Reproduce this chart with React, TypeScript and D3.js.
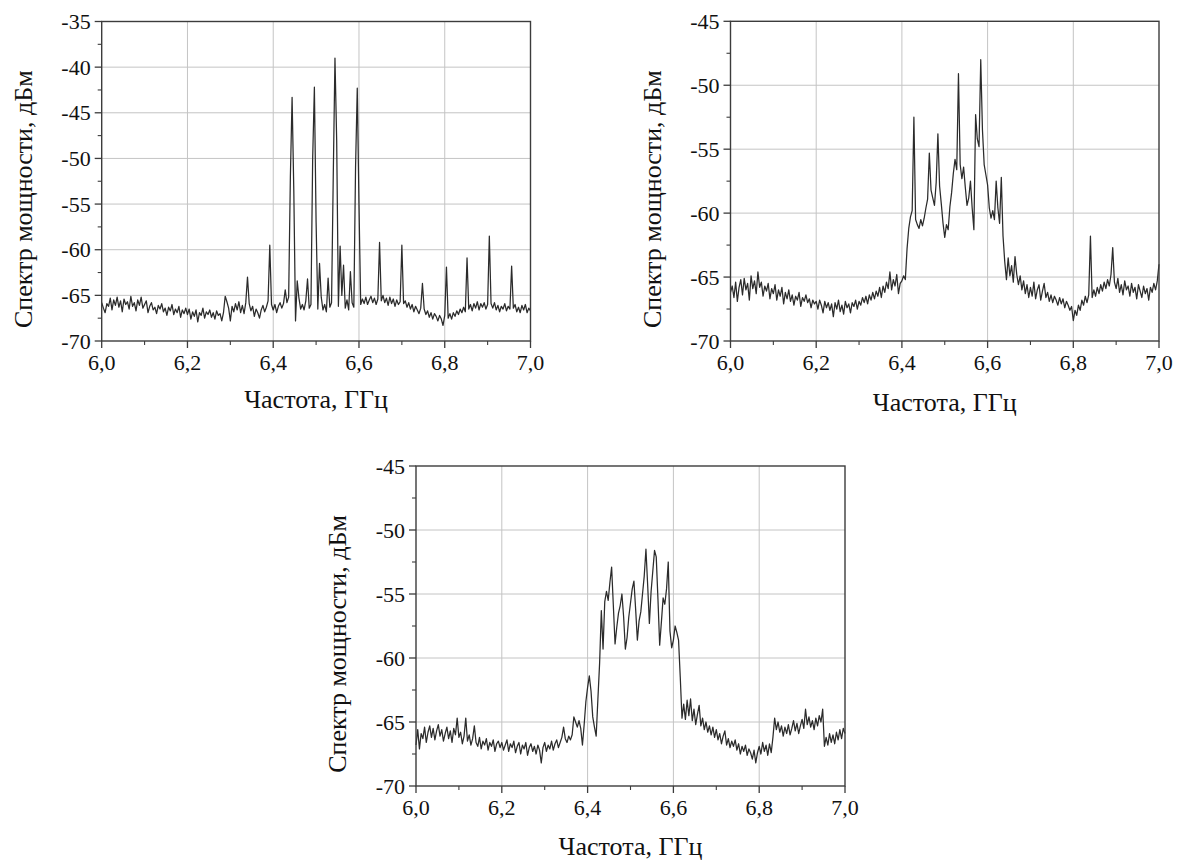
import React from "react";
import * as d3 from "d3";

// Frequency grid: spectra are sampled every 4 MHz from 6.0 to 7.0 GHz
const F_START = 6.0;
const F_STEP = 0.004;

// Spectrum A: discrete comb of lines around 6.55 GHz (dBm)
const SPECTRUM_A: number[] = [
  -65.8, -66.4, -66.9, -65.9, -66.2, -65.3, -66.6, -65.5, -66.1, -65.2, -66.3, -65.6, -66.8, -65.4, -66.0, -65.7, -66.5, -65.1, -66.2, -65.8, -66.7, -65.5, -66.1, -65.2, -66.4,
  -66.0, -65.6, -66.9, -66.2, -65.8, -66.6, -66.3, -67.0, -66.1, -66.5, -65.9, -66.8, -66.4, -67.2, -66.3, -66.7, -66.0, -67.1, -66.5, -66.9, -66.2, -67.4, -66.6, -67.0, -66.4,
  -67.1, -66.5, -67.6, -66.8, -67.3, -66.6, -67.9, -66.9, -67.2, -66.4, -67.5, -66.8, -67.1, -66.6, -67.4, -66.9, -67.6, -66.7, -67.2, -67.0, -67.8, -66.9, -65.1, -65.7, -66.4,
  -67.8, -66.2, -66.8, -65.9, -66.6, -65.7, -66.9, -66.1, -67.0, -65.8, -63.0, -65.9, -66.7, -66.2, -67.3, -66.5, -66.9, -67.5, -66.6, -66.1, -66.8, -66.3, -65.6, -59.5, -66.0,
  -66.6, -66.0, -66.9, -66.2, -65.8, -66.4, -65.9, -64.4, -65.8, -65.2, -52.0, -43.3, -53.5, -67.8, -63.4, -65.3, -66.5, -66.0, -66.6, -65.6, -63.2, -66.4, -66.0, -50.0, -42.2,
  -57.0, -66.5, -61.5, -65.2, -66.6, -66.0, -66.8, -63.1, -66.3, -65.8, -52.0, -39.0, -48.0, -66.2, -59.6, -65.0, -61.7, -66.4, -65.5, -66.6, -62.4, -65.8, -66.3, -51.0, -42.3,
  -55.0, -66.0, -65.4, -65.9, -65.2, -66.0, -65.5, -65.1, -65.8, -65.3, -66.0, -65.4, -59.2, -65.6, -65.0, -65.8, -65.3, -66.1, -65.2, -65.9, -65.4, -66.2, -65.5, -66.0, -65.7,
  -59.5, -65.9, -65.6, -66.3, -65.8, -66.5, -66.0, -66.8, -66.2, -66.6, -67.0, -66.4, -63.7, -66.5, -67.1, -66.7, -67.4, -66.9, -67.6, -67.0, -67.3, -67.8, -67.2, -67.6, -68.3,
  -67.2, -61.9, -67.5, -67.0, -67.6, -66.9, -67.3, -66.7, -67.1, -66.5, -66.9, -66.3, -66.8, -60.9, -66.5, -66.0, -66.7, -65.9, -66.4, -65.7, -66.6, -65.9, -66.3, -65.8, -66.5,
  -66.0, -58.5, -65.9, -66.4, -65.8, -66.6, -66.1, -66.8, -66.2, -66.5, -65.9, -66.7, -66.2, -66.5, -61.8, -66.4, -66.0, -66.8, -66.3, -66.9, -66.1, -66.6, -66.0, -66.9, -66.4,
  -66.7,
];

// Spectrum B: partially smeared comb (dBm)
const SPECTRUM_B: number[] = [
  -66.2, -65.7, -66.6, -65.4, -66.9, -65.8, -65.2, -66.4, -65.1, -66.0, -65.5, -66.8, -64.9, -65.9, -65.3, -66.3, -64.6, -65.8, -65.4, -66.5, -65.7, -66.1, -65.5, -66.7, -65.9,
  -66.3, -65.6, -66.8, -66.0, -66.5, -65.8, -67.1, -66.2, -66.7, -66.0, -66.9, -66.4, -67.2, -66.5, -66.8, -66.2, -67.3, -66.6, -66.9, -66.4, -67.0, -66.7, -67.4, -66.8, -67.1,
  -66.9, -67.5, -66.8, -67.2, -67.8, -66.9, -67.4, -67.0, -67.6, -67.1, -68.1, -67.0, -67.5, -66.8, -67.7, -67.2, -67.9, -66.9, -67.4, -67.1, -67.8, -67.0, -67.3, -66.8, -67.5,
  -66.9, -67.2, -66.6, -67.0, -66.5, -67.1, -66.4, -66.8, -66.2, -66.7, -66.1, -66.5, -65.8, -66.6, -65.7, -66.2, -65.4, -65.9, -64.6, -66.0, -65.2, -65.7, -64.8, -66.3, -65.5,
  -65.3, -64.9, -65.2, -62.8, -61.2, -60.3, -59.8, -52.5, -60.5, -60.9, -61.2, -60.5, -61.0, -60.4, -59.6, -58.9, -55.3, -58.2, -58.8, -59.4, -57.6, -53.8, -57.9, -59.3, -60.8,
  -61.9, -60.9, -61.3, -59.5, -58.4, -56.9, -55.8, -56.6, -49.1, -56.2, -57.3, -56.4, -58.0, -59.4, -58.8, -57.5, -59.6, -61.3, -52.3, -54.2, -54.8, -48.0, -53.5, -56.2, -57.0,
  -57.8, -59.6, -60.4, -59.8, -60.5, -57.5, -59.6, -60.8, -57.2, -61.8, -63.8, -65.2, -63.5, -64.9, -64.1, -65.4, -63.4, -64.8, -65.6, -64.9, -66.0, -65.3, -66.3, -65.6, -66.6,
  -65.8, -66.5, -65.4, -66.7, -66.0, -65.6, -66.8, -66.1, -65.5, -66.6, -66.2, -66.9, -66.4, -67.0, -66.5, -66.8, -67.2, -66.6, -67.1, -66.7, -67.4, -66.9, -67.2, -67.6, -67.3,
  -68.4, -67.6, -68.0, -67.2, -67.6, -66.8, -67.2, -66.5, -67.0, -66.4, -61.8, -66.6, -66.0, -66.5, -65.8, -66.3, -65.6, -66.1, -65.4, -65.9, -65.2, -65.7, -64.8, -62.7, -65.4,
  -65.9, -65.1, -66.2, -65.6, -66.4, -65.3, -66.0, -65.7, -66.5, -65.5, -66.2, -65.8, -66.7, -65.6, -66.1, -66.6, -65.7, -66.3, -65.9, -66.8, -65.8, -66.2, -65.5, -66.0, -65.3,
  -64.0,
];

// Spectrum C: continuous band 6.42–6.62 GHz (dBm)
const SPECTRUM_C: number[] = [
  -66.8, -65.6, -67.1, -65.9, -66.3, -65.4, -66.6, -65.8, -65.3, -66.2, -65.5, -66.4, -65.7, -65.2, -66.1, -65.6, -66.5, -65.9, -65.4, -66.3, -65.7, -66.6, -65.5, -66.0, -64.7,
  -66.2, -65.8, -66.7, -66.1, -64.7, -66.5, -66.0, -66.8, -66.3, -65.3, -66.6, -66.9, -66.2, -67.1, -66.5, -66.8, -66.3, -67.2, -66.6, -66.9, -66.4, -67.3, -66.7, -66.5, -67.0,
  -66.6, -67.2, -66.8, -66.4, -67.3, -66.7, -67.0, -66.5, -67.4, -66.9, -66.6, -67.5, -66.8, -67.1, -66.6, -67.6, -67.0, -66.7, -67.3, -66.9, -67.5, -66.8, -67.2, -68.2, -67.0,
  -66.6, -67.3, -66.8, -67.1, -66.5, -67.2, -66.7, -66.4, -67.0, -66.6, -66.2, -65.4, -66.3, -66.6, -66.1, -66.4, -66.0, -64.6, -65.0, -65.4, -64.9, -65.5, -66.8, -65.2, -63.4,
  -62.3, -61.4, -62.6, -64.6, -65.4, -66.1, -63.2, -60.4, -56.3, -59.3, -55.6, -54.8, -55.5, -54.1, -52.9, -55.9, -58.9, -57.6, -56.5, -55.9, -55.0, -56.8, -59.3, -58.4, -56.8,
  -55.7, -54.6, -54.0, -56.2, -58.6, -57.1, -56.4, -55.0, -53.6, -51.5, -54.3, -57.3, -54.8, -53.2, -51.6, -52.1, -55.4, -59.0, -57.2, -55.3, -55.8, -54.6, -52.5, -57.9, -59.2,
  -58.6, -57.5, -58.0, -58.6, -61.5, -64.7, -63.6, -64.8, -63.3, -64.5, -63.2, -64.9, -64.0, -65.2, -64.4, -63.7, -65.3, -64.7, -65.6, -65.0, -65.8, -65.3, -66.0, -65.4, -66.2,
  -65.6, -66.4, -65.9, -66.7, -66.1, -65.7, -66.8, -66.3, -67.0, -66.5, -66.9, -66.4, -67.2, -66.7, -67.5, -66.9, -67.3, -66.8, -67.6, -67.1, -67.4, -67.9, -67.2, -68.2, -67.4,
  -66.9, -67.5, -66.6, -67.3, -66.8, -67.6, -66.7, -67.4, -66.2, -64.7, -65.6, -65.0, -65.8, -65.3, -66.1, -65.4, -65.9, -65.2, -66.0, -65.5, -64.9, -65.7, -65.1, -65.9, -65.3,
  -64.8, -65.5, -64.0, -65.2, -64.6, -65.4, -64.9, -65.6, -64.7, -65.3, -64.5, -65.0, -64.0, -66.9, -66.2, -66.8, -65.9, -66.6, -66.0, -66.7, -65.8, -66.4, -65.6, -66.3, -65.5,
  -65.9,
];

// Axis ticks
const X_TICKS = [6.0, 6.2, 6.4, 6.6, 6.8, 7.0];
const X_MINOR = [6.1, 6.3, 6.5, 6.7, 6.9];
const Y_TICKS_A = [-70, -65, -60, -55, -50, -45, -40, -35];
const Y_TICKS_BC = [-70, -65, -60, -55, -50, -45];

const X_TITLE = "Частота, ГГц";
const Y_TITLE = "Спектр мощности, дБм";

const FONT = '"Liberation Serif", "DejaVu Serif", serif';

type PanelProps = {
  left: number;
  top: number;
  width: number;
  height: number;
  data: number[];
  yTicks: number[];
  xTitleY: number;
};

const fmtX = (v: number) => v.toFixed(1).replace(".", ",");

function Panel({ left, top, width, height, data, yTicks, xTitleY }: PanelProps) {
  const x = d3.scaleLinear().domain([6, 7]).range([left, left + width]);
  const yMin = yTicks[0];
  const yMax = yTicks[yTicks.length - 1];
  const y = d3.scaleLinear().domain([yMin, yMax]).range([top + height, top]);

  const points: [number, number][] = data.map((v, i) => [F_START + i * F_STEP, v]);
  const line = d3
    .line<[number, number]>()
    .x((d) => x(d[0]))
    .y((d) => y(d[1]));

  const yMinor: number[] = [];
  for (let i = 0; i < yTicks.length - 1; i++) yMinor.push((yTicks[i] + yTicks[i + 1]) / 2);

  const right = left + width;
  const bottom = top + height;
  const gridColor = "#c4c4c4";
  const axisColor = "#3c3c3c";
  const tickStyle = { fontFamily: FONT, fontSize: 22 };
  const titleStyle = { fontFamily: FONT, fontSize: 26 };

  return (
    <g>
      {/* grid */}
      {X_TICKS.slice(1, -1).map((t) => (
        <line key={"gx" + t} x1={x(t)} x2={x(t)} y1={top} y2={bottom} stroke={gridColor} strokeWidth={1} />
      ))}
      {yTicks.slice(1, -1).map((t) => (
        <line key={"gy" + t} x1={left} x2={right} y1={y(t)} y2={y(t)} stroke={gridColor} strokeWidth={1} />
      ))}

      {/* spectrum trace */}
      <path d={line(points) ?? ""} fill="none" stroke="#2b2b2b" strokeWidth={1.25} strokeLinejoin="round" />

      {/* frame */}
      <rect x={left} y={top} width={width} height={height} fill="none" stroke={axisColor} strokeWidth={1.4} />

      {/* x ticks */}
      {X_TICKS.map((t) => (
        <line key={"tx" + t} x1={x(t)} x2={x(t)} y1={bottom} y2={bottom + 7} stroke={axisColor} strokeWidth={1.3} />
      ))}
      {X_MINOR.map((t) => (
        <line key={"mx" + t} x1={x(t)} x2={x(t)} y1={bottom} y2={bottom + 4} stroke={axisColor} strokeWidth={1.1} />
      ))}
      {X_TICKS.map((t) => (
        <text key={"lx" + t} x={x(t)} y={bottom + 29} textAnchor="middle" style={tickStyle} fill="#111">
          {fmtX(t)}
        </text>
      ))}

      {/* y ticks */}
      {yTicks.map((t) => (
        <line key={"ty" + t} x1={left - 7} x2={left} y1={y(t)} y2={y(t)} stroke={axisColor} strokeWidth={1.3} />
      ))}
      {yMinor.map((t) => (
        <line key={"my" + t} x1={left - 4} x2={left} y1={y(t)} y2={y(t)} stroke={axisColor} strokeWidth={1.1} />
      ))}
      {yTicks.map((t) => (
        <text
          key={"ly" + t}
          x={left - 11}
          y={y(t) + 7.5}
          textAnchor="end"
          style={tickStyle}
          fill="#111"
        >
          {String(t)}
        </text>
      ))}

      {/* titles */}
      <text x={(left + right) / 2} y={xTitleY} textAnchor="middle" style={titleStyle} fill="#111">
        {X_TITLE}
      </text>
      <text
        transform={`translate(${left - 70}, ${(top + bottom) / 2 + 18}) rotate(-90)`}
        textAnchor="middle"
        style={titleStyle}
        fill="#111"
      >
        {Y_TITLE}
      </text>
    </g>
  );
}

export default function App() {
  return (
    <svg
      width={1179}
      height={861}
      viewBox="0 0 1179 861"
      style={{ position: "absolute", left: 0, top: 0, background: "#fff" }}
    >
      <rect x={0} y={0} width={1179} height={861} fill="#fff" />
      <Panel left={101.7} top={21.5} width={428.8} height={319.5} data={SPECTRUM_A} yTicks={Y_TICKS_A} xTitleY={408} />
      <Panel left={730.5} top={21.3} width={428.5} height={319.7} data={SPECTRUM_B} yTicks={Y_TICKS_BC} xTitleY={411} />
      <Panel left={416} top={466} width={429} height={320} data={SPECTRUM_C} yTicks={Y_TICKS_BC} xTitleY={855} />
    </svg>
  );
}
